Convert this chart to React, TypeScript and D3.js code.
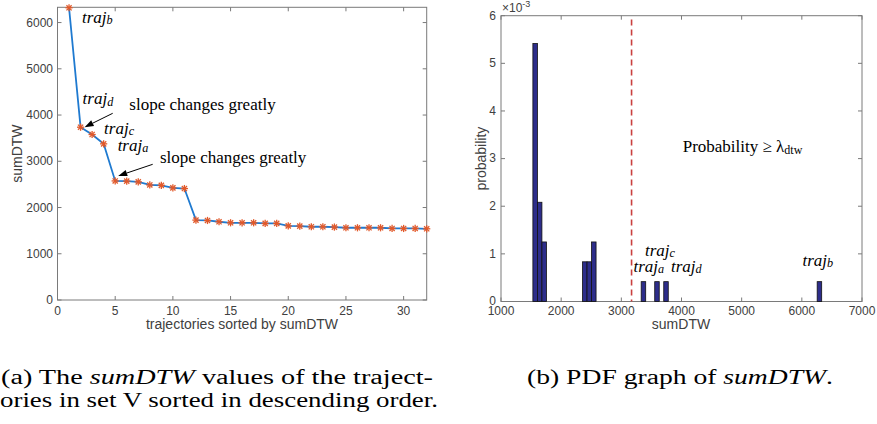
import React from "react";
import * as d3 from "d3";

// ---------- data ----------
// sumDTW of the 32 trajectories of set V, sorted descending (rank 1..32)
const sumDTW: number[] = [
  6320, 3737, 3579, 3377, 2575, 2570, 2555, 2488, 2480, 2425, 2410, 1728, 1720,
  1692, 1670, 1670, 1670, 1656, 1656, 1603, 1598, 1584, 1584, 1577, 1562, 1562,
  1562, 1562, 1547, 1547, 1547, 1540,
];
const leftXTicks = [0, 5, 10, 15, 20, 25, 30];
const leftYTicks = [0, 1000, 2000, 3000, 4000, 5000, 6000];
const rightXTicks = [1000, 2000, 3000, 4000, 5000, 6000, 7000];
const rightYTicks = [0, 1, 2, 3, 4, 5, 6]; // x 10^-3
const BIN_START = 1530;
const BIN_WIDTH = 75;
const BIN_END = 6330;
const threshold = 3170; // lambda_dtw

const SANS = "'Liberation Sans', Arial, Helvetica, sans-serif";
const SERIF = "'Liberation Serif', 'Times New Roman', serif";
const AXIS = "#7a7a7a";
const TICKTXT = "#404040";

function Traj({ x, y, sub, size = 17 }: { x: number; y: number; sub: string; size?: number }) {
  return (
    <text x={x} y={y} fontFamily={SERIF} fontStyle="italic" fontSize={size} fill="#000">
      traj
      <tspan fontSize={size * 0.72} dy={1.5}>{sub}</tspan>
    </text>
  );
}

function Star({ cx, cy, r, color }: { cx: number; cy: number; r: number; color: string }) {
  const d = r * 0.72;
  return (
    <g stroke={color} strokeWidth={1.3}>
      <line x1={cx - r} y1={cy} x2={cx + r} y2={cy} />
      <line x1={cx} y1={cy - r} x2={cx} y2={cy + r} />
      <line x1={cx - d} y1={cy - d} x2={cx + d} y2={cy + d} />
      <line x1={cx - d} y1={cy + d} x2={cx + d} y2={cy - d} />
    </g>
  );
}

function Arrow({ x1, y1, x2, y2 }: { x1: number; y1: number; x2: number; y2: number }) {
  const ang = Math.atan2(y2 - y1, x2 - x1);
  const L = 9, W = 3.2;
  const bx = x2 - L * Math.cos(ang), by = y2 - L * Math.sin(ang);
  const px = -Math.sin(ang) * W, py = Math.cos(ang) * W;
  return (
    <g>
      <line x1={x1} y1={y1} x2={bx} y2={by} stroke="#000" strokeWidth={1} />
      <path d={`M${x2},${y2}L${bx + px},${by + py}L${bx - px},${by - py}Z`} fill="#000" />
    </g>
  );
}

export default function App() {
  // ---------- left plot ----------
  const lx = d3.scaleLinear().domain([0, 32]).range([57.5, 426.7]);
  const ly = d3.scaleLinear().domain([0, 6330]).range([300, 7.3]);
  const pts = sumDTW.map((v, i) => [i + 1, v] as [number, number]);
  const line = d3.line<[number, number]>().x((d) => lx(d[0])).y((d) => ly(d[1]));

  // ---------- right plot ----------
  const rx = d3.scaleLinear().domain([1000, 7000]).range([501, 862]);
  const ry = d3.scaleLinear().domain([0, 6e-3]).range([301.5, 15.7]);
  const bins = d3
    .bin()
    .domain([BIN_START, BIN_END])
    .thresholds(d3.range(BIN_START + BIN_WIDTH, BIN_END, BIN_WIDTH))(sumDTW);
  const N = sumDTW.length;

  const tk = 4;
  const P = (r: number) => [lx(r), ly(sumDTW[r - 1])];
  const [p1x, p1y] = P(1);
  const [p2x, p2y] = P(2);
  const [p3x, p3y] = P(3);
  const [p4x, p4y] = P(4);
  const [p5x, p5y] = P(5);

  const binOf = (v: number) => bins.find((b) => v >= (b.x0 as number) && v <= (b.x1 as number))!;
  const bx = (rank: number) => {
    const b = binOf(sumDTW[rank - 1]);
    return rx(((b.x0 as number) + (b.x1 as number)) / 2);
  };
  const barTop = ry(1 / (N * BIN_WIDTH));

  return (
    <svg width={877} height={424} style={{ display: "block", position: "absolute", left: 0, top: 0 }}>
      <rect width={877} height={424} fill="#fff" />
      {/* ===== LEFT ===== */}
      <g>
        <rect x={lx(0)} y={ly(6330)} width={lx(32) - lx(0)} height={ly(0) - ly(6330)} fill="none" stroke={AXIS} strokeWidth={1} />
        {leftXTicks.map((t) => (
          <g key={"lxt" + t}>
            <line x1={lx(t)} x2={lx(t)} y1={ly(0)} y2={ly(0) - tk} stroke={AXIS} />
            <line x1={lx(t)} x2={lx(t)} y1={ly(6330)} y2={ly(6330) + tk} stroke={AXIS} />
            <text x={lx(t)} y={314.5} textAnchor="middle" fontFamily={SANS} fontSize={12} fill={TICKTXT}>{t}</text>
          </g>
        ))}
        {leftYTicks.map((t) => (
          <g key={"lyt" + t}>
            <line x1={lx(0)} x2={lx(0) + tk} y1={ly(t)} y2={ly(t)} stroke={AXIS} />
            <line x1={lx(32)} x2={lx(32) - tk} y1={ly(t)} y2={ly(t)} stroke={AXIS} />
            <text x={53} y={ly(t) + 4.2} textAnchor="end" fontFamily={SANS} fontSize={12} fill={TICKTXT}>{t}</text>
          </g>
        ))}
        <text x={242} y={329} textAnchor="middle" fontFamily={SANS} fontSize={14} fill={TICKTXT}>trajectories sorted by sumDTW</text>
        <text transform={`translate(22,${(ly(0) + ly(6330)) / 2}) rotate(-90)`} textAnchor="middle" fontFamily={SANS} fontSize={14} fill={TICKTXT}>sumDTW</text>
        <path d={line(pts) as string} fill="none" stroke="#1f7ad0" strokeWidth={1.8} />
        {pts.map((p, i) => (
          <Star key={i} cx={lx(p[0])} cy={ly(p[1])} r={3.6} color="#e2592a" />
        ))}
        <Traj x={p1x + 13} y={p1y + 15} sub="b" />
        <Traj x={p2x + 2} y={p2y - 23} sub="d" />
        <Traj x={p3x + 12} y={p3y - 1} sub="c" />
        <Traj x={p4x + 14} y={p4y + 7} sub="a" />
        <text x={129.3} y={110} fontFamily={SERIF} fontSize={17} fill="#000">slope changes greatly</text>
        <Arrow x1={112.7} y1={113.3} x2={p2x + 4} y2={p2y} />
        <text x={160} y={163} fontFamily={SERIF} fontSize={17} fill="#000">slope changes greatly</text>
        <Arrow x1={152.7} y1={164.3} x2={p5x + 3} y2={p5y - 5} />
      </g>

      {/* ===== RIGHT ===== */}
      <g>
        <rect x={rx(1000)} y={ry(6e-3)} width={rx(7000) - rx(1000)} height={ry(0) - ry(6e-3)} fill="none" stroke={AXIS} strokeWidth={1} />
        {rightXTicks.map((t) => (
          <g key={"rxt" + t}>
            <line x1={rx(t)} x2={rx(t)} y1={ry(0)} y2={ry(0) - tk} stroke={AXIS} />
            <line x1={rx(t)} x2={rx(t)} y1={ry(6e-3)} y2={ry(6e-3) + tk} stroke={AXIS} />
            <text x={rx(t)} y={315} textAnchor="middle" fontFamily={SANS} fontSize={12} fill={TICKTXT}>{t}</text>
          </g>
        ))}
        {rightYTicks.map((t) => (
          <g key={"ryt" + t}>
            <line x1={rx(1000)} x2={rx(1000) + tk} y1={ry(t * 1e-3)} y2={ry(t * 1e-3)} stroke={AXIS} />
            <line x1={rx(7000)} x2={rx(7000) - tk} y1={ry(t * 1e-3)} y2={ry(t * 1e-3)} stroke={AXIS} />
            <text x={496} y={ry(t * 1e-3) + 3.8} textAnchor="end" fontFamily={SANS} fontSize={12} fill={TICKTXT}>{t}</text>
          </g>
        ))}
        <text x={502} y={12} fontFamily={SANS} fontSize={12} fill={TICKTXT}>
          ×10<tspan fontSize={9} dy={-5}>-3</tspan>
        </text>
        <text x={681} y={329} textAnchor="middle" fontFamily={SANS} fontSize={14} fill={TICKTXT}>sumDTW</text>
        <text transform={`translate(486,${(ry(0) + ry(6e-3)) / 2}) rotate(-90)`} textAnchor="middle" fontFamily={SANS} fontSize={14} fill={TICKTXT}>probability</text>
        {bins.filter((b) => b.length > 0).map((b, i) => (
          <rect key={i} x={rx(b.x0 as number)} y={ry(b.length / (N * BIN_WIDTH))} width={rx(b.x1 as number) - rx(b.x0 as number)} height={ry(0) - ry(b.length / (N * BIN_WIDTH))} fill="#2d2d8a" stroke="#111" strokeWidth={0.8} />
        ))}
        <line x1={rx(threshold)} x2={rx(threshold)} y1={ry(5.92e-3)} y2={ry(0)} stroke="#c9403f" strokeWidth={1.6} strokeDasharray="6,4" />
        <text x={682.7} y={152} fontFamily={SERIF} fontSize={17} fill="#000">
          Probability ≥ λ<tspan fontSize={12} dy={2}>dtw</tspan>
        </text>
        <Traj x={bx(3) - 12} y={barTop - 26} sub="c" />
        <Traj x={bx(4) - 10} y={barTop - 10} sub="a" />
        <Traj x={bx(2) + 5} y={barTop - 10} sub="d" />
        <Traj x={bx(1) - 17} y={barTop - 16} sub="b" />
      </g>

      {/* ===== CAPTIONS ===== */}
      <text x={1} y={384} fontFamily={SERIF} fontSize={20} fill="#000" textLength={432} lengthAdjust="spacingAndGlyphs">
        (a) The <tspan fontStyle="italic">sumDTW</tspan> values of the traject-
      </text>
      <text x={0} y={407} fontFamily={SERIF} fontSize={20} fill="#000" textLength={438} lengthAdjust="spacingAndGlyphs">
        ories in set V sorted in descending order.
      </text>
      <text x={527} y={384} fontFamily={SERIF} fontSize={20} fill="#000" textLength={306} lengthAdjust="spacingAndGlyphs">
        (b) PDF graph of <tspan fontStyle="italic">sumDTW</tspan>.
      </text>
    </svg>
  );
}
